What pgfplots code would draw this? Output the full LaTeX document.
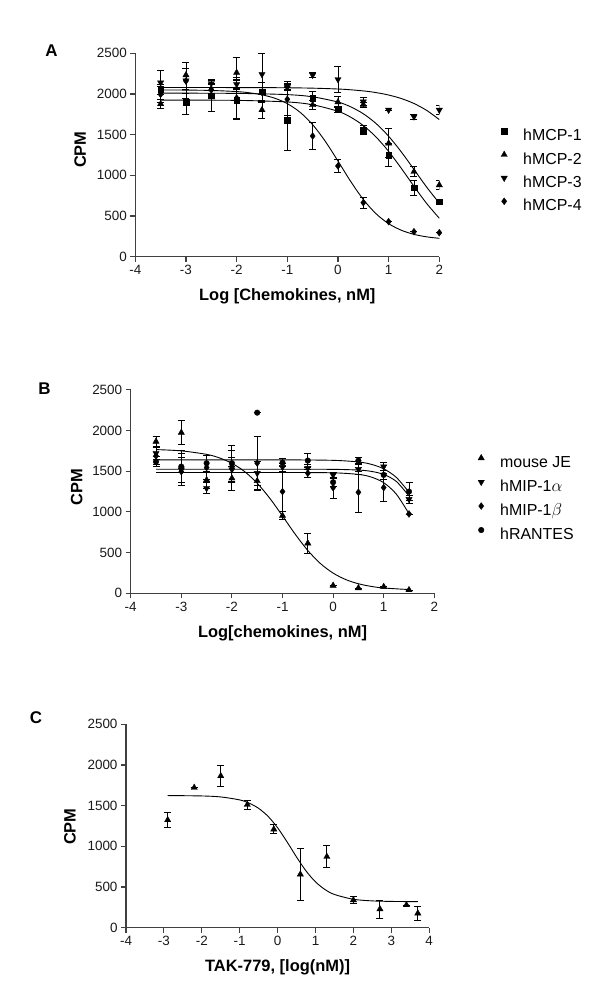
\documentclass[border=0pt]{standalone}
\usepackage{fontspec}
\setmainfont{Liberation Sans}
\usepackage{pgfplots}
\pgfplotsset{compat=1.18}
\newcommand{\lgf}{\fontsize{16}{19}\selectfont}
\pgfplotsset{
 gp/.style={scale only axis, axis lines=left,
  axis line style={-, black!75, line width=1.1bp},
  tick align=outside, major tick length=5bp,
  tick style={black!75, line width=1.1bp},
  ymin=0, ymax=2500, ytick={0,500,...,2500}, height=203.4bp,
  /pgf/number format/assume math mode=true,
  /pgf/number format/set thousands separator={},
  tick label style={font=\fontsize{13.5}{16}\selectfont, black!90},
  label style={font=\bfseries\fontsize{16.5}{19}\selectfont},
  y label style={rotate=0, anchor=center},
  x label style={anchor=center},
  legend cell align=left,
 },
 dat/.style={only marks, black, mark options={solid, fill=black, draw=black},
  legend image code/.code={\path[draw=none, fill=none] (0bp,0bp) rectangle (27bp,11bp); \draw[##1] plot coordinates {(8bp,5.5bp)};},
  error bars/y dir=both, error bars/y explicit,
  error bars/error bar style={black, line width=0.9bp},
  error bars/error mark options={black, mark size=3.5bp, line width=0.9bp, rotate=90}},
 fit/.style={black, line width=0.9bp, smooth, no marks, forget plot},
 msq/.style={mark=square*, mark size=2.8bp},
 mup/.style={mark=triangle*, mark size=3.6bp},
 mdn/.style={mark=triangle*, mark size=3.6bp, mark options={rotate=180}},
 mdi/.style={mark=diamond*, mark size=3.4bp},
 mci/.style={mark=*, mark size=2.8bp},
 lg/.style={legend style={draw=none, fill=none, inner sep=0pt, anchor=north west,
    column sep=0pt, row sep=#1,
    nodes={font=\lgf, text height=12bp, text depth=4bp, inner sep=0pt}}},
}
\begin{document}
\begin{tikzpicture}[x=1bp,y=1bp]
\useasboundingbox (0,0) rectangle (600,1006);
\node[font=\bfseries\fontsize{17}{20}\selectfont] at (51.5,955) {A};
\node[font=\bfseries\fontsize{17}{20}\selectfont] at (44.5,617) {B};
\node[font=\bfseries\fontsize{17}{20}\selectfont] at (36,288) {C};

% ---------------- Panel A ----------------
\begin{axis}[gp, at={(135.3bp,749.3bp)}, anchor=south west, width=304bp,
  xmin=-4, xmax=2, xtick={-4,...,2},
  xlabel={Log [Chemokines, nM]}, ylabel={CPM},
  x label style={at={(axis description cs:0.5,-0.197)}},
  y label style={at={(axis description cs:-0.181,0.526)}, rotate=0},
  lg=4.3bp, legend style={at={(axis description cs:1.1865,0.644)}}]
\addplot+[dat, msq] table[x index=0, y index=1, y error index=2] {
-3.5 2057 60
-3 1898 155
-2.5 1979 190
-2 1926 245
-1.5 2028 110
-1 1680 370
-0.5 1947 80
0 1812 40
0.5 1557 50
1 1250 140
1.5 848 90
2 676 0
};
\addlegendentry{hMCP-1}
\addplot+[dat, mup] table[x index=0, y index=1, y error index=2] {
-3.5 1877 60
-3 2233 150
-2.5 2060 60
-2 2262 190
-1.5 1803 100
-1 2098 50
-0.5 1865 60
0 1900 70
0.5 1870 30
1 1394 180
1.5 1045 60
2 881 50
};
\addlegendentry{hMCP-2}
\addplot+[dat, mdn] table[x index=0, y index=1, y error index=2] {
-3.5 2139 145
-3 2163 220
-2.5 2131 50
-2 2119 60
-1.5 2242 250
-1 2080 40
-0.5 2233 30
0 2180 160
0.5 1905 50
1 1803 0
1.5 1721 30
2 1803 50
};
\addlegendentry{hMCP-3}
\addplot+[dat, mdi] table[x index=0, y index=1, y error index=2] {
-3.5 1996 100
-3 2160 150
-2.5 2049 80
-2 1950 250
-1.5 2020 120
-1 1935 200
-0.5 1483 170
0 1115 80
0.5 664 70
1 430 0
1.5 307 0
2 295 0
};
\addlegendentry{hMCP-4}
% fitted curves
\addplot[fit] coordinates {(-3.5,1924.8) (-2,1921.3) (-1,1901.7) (-0.5,1867.5) (0,1786.9) (0.25,1714.9) (0.5,1612.1) (0.75,1472.1) (1,1294.1) (1.25,1085.9) (1.5,865.3) (1.75,654.5) (2,472.3)};
\addplot[fit] coordinates {(-3.5,2010) (-2,2007.1) (-1,1991.8) (-0.5,1964.9) (0,1900.5) (0.25,1842) (0.5,1756.8) (0.75,1637.7) (1,1480.4) (1.25,1287.7) (1.5,1072.6) (1.75,855.6) (2,658.3)};
\addplot[fit] coordinates {(-3.5,2080) (-1,2076.1) (0,2060.8) (0.5,2037.4) (0.75,2016.9) (1,1987) (1.25,1943.9) (1.5,1882.9) (1.75,1798.2) (2,1685)};
\addplot[fit] coordinates {(-3.5,2049) (-3,2047.7) (-2.5,2043) (-2,2029.4) (-1.75,2014.6) (-1.5,1989.7) (-1.25,1948.3) (-1,1880.9) (-0.75,1776) (-0.5,1622.9) (-0.25,1418) (0,1175.5) (0.25,925.8) (0.5,703.3) (0.75,528.9) (1,405.8) (1.25,325) (1.5,274.4) (1.75,243.8) (2,225.6)};
\end{axis}

% ---------------- Panel B ----------------
\begin{axis}[gp, at={(130.7bp,412.7bp)}, anchor=south west, width=303.6bp,
  xmin=-4, xmax=2, xtick={-4,...,2},
  xlabel={Log[chemokines, nM]}, ylabel={CPM},
  x label style={at={(axis description cs:0.5,-0.197)}},
  y label style={at={(axis description cs:-0.178,0.523)}, rotate=0},
  lg=5bp, legend style={at={(axis description cs:1.1275,0.693)}}]
\addplot+[dat, mup] table[x index=0, y index=1, y error index=2] {
-3.5 1865 60
-3 1975 150
-2.5 1393 100
-2 1414 150
-1.5 1381 110
-1 955 50
-0.5 615 120
0 95 0
0.5 65 0
1 80 0
1.5 41 0
};
\addlegendentry{mouse JE}
\addplot+[dat, mdn] table[x index=0, y index=1, y error index=2] {
-3.5 1721 80
-3 1520 200
-2.5 1291 70
-2 1520 150
-1.5 1476 150
-1 1550 50
-0.5 1537 50
0 1455 30
0.5 1525 60
1 1557 50
1.5 1156 50
};
\addlegendentry{hMIP-1$\alpha$}
\addplot+[dat, mdi] table[x index=0, y index=1, y error index=2] {
-3.5 1688 100
-3 1495 170
-2.5 1545 150
-2 1557 200
-1.5 1600 330
-1 1250 250
-0.5 1476 50
0 1299 130
0.5 1242 250
1 1299 170
1.5 975 0
};
\addlegendentry{hMIP-1$\beta$}
\addplot+[dat, mci] table[x index=0, y index=1, y error index=2] {
-3.5 1618 60
-3 1557 200
-2.5 1599 100
-2 1599 220
-1.5 2220 0
-1 1606 50
-0.5 1631 90
0 1365 50
0.5 1631 40
1 1455 60
1.5 1250 110
};
\addlegendentry{hRANTES}
\addplot[fit] coordinates {(-3.5,1766.2) (-3,1750.5) (-2.5,1707.6) (-2.25,1664.8) (-2,1597.6) (-1.75,1496.6) (-1.5,1353.3) (-1.25,1167) (-1,950.1) (-0.75,727.2) (-0.5,526.4) (-0.25,365.4) (0,248.2) (0.25,168.6) (0.5,117.2) (0.75,84.9) (1,65.1) (1.5,45.8)};
\addplot[fit] coordinates {(-3.5,1640) (-1,1639.7) (0,1634.1) (0.5,1614) (0.75,1586.1) (1,1530.1) (1.25,1424) (1.5,1241.9)};
\addplot[fit] coordinates {(-3.5,1525) (-1,1525) (0,1523.3) (0.5,1514.5) (0.75,1499) (1,1461.2) (1.25,1374.4) (1.5,1195.7)};
\addplot[fit] coordinates {(-3.5,1485) (-1,1484.8) (0,1480.7) (0.5,1461) (0.75,1429.4) (1,1359.5) (1.25,1218.4) (1.5,977.7)};
\end{axis}

% ---------------- Panel C ----------------
\begin{axis}[gp, at={(126bp,78.3bp)}, anchor=south west, width=303.2bp,
  xmin=-4, xmax=4, xtick={-4,...,4},
  xlabel={TAK-779, [log(nM)]}, ylabel={CPM},
  x label style={at={(axis description cs:0.5,-0.197)}},
  y label style={at={(axis description cs:-0.185,0.497)}, rotate=0}]
\addplot+[dat, mup] table[x index=0, y index=1, y error index=2] {
-2.9 1324 95
-2.2 1721 0
-1.5 1865 135
-0.8 1512 55
-0.1 1209 55
0.6 656 318
1.3 873 133
2.0 340 40
2.7 229 112
3.4 279 0
3.7 177 90
};
\addplot[fit] coordinates {(-2.9,1624.3) (-2,1619.3) (-1.5,1607.2) (-1,1570.4) (-0.75,1531) (-0.5,1466.7) (-0.25,1367.8) (0,1228.5) (0.25,1054.7) (0.5,868.3) (0.75,697.7) (1,563.2) (1.25,468.9) (1.5,408.2) (2,349.2) (2.5,329.4) (3,323) (3.7,320.1)};
\end{axis}
\end{tikzpicture}
\end{document}
